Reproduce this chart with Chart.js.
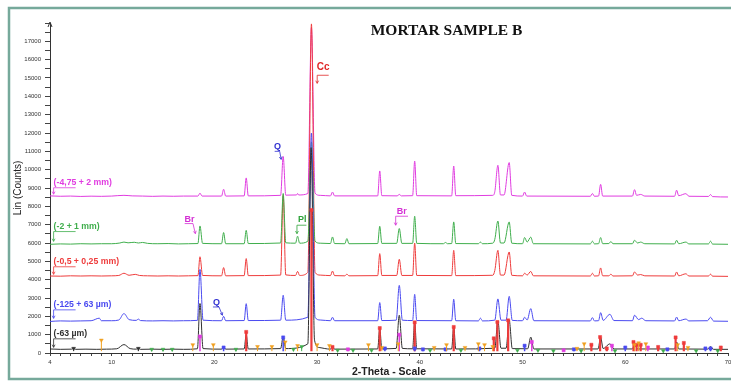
<!DOCTYPE html>
<html>
<head>
<meta charset="utf-8">
<script src="https://cdn.jsdelivr.net/npm/chart.js@4.4.0/dist/chart.umd.min.js"></script>
<style>
  html, body { margin: 0; padding: 0; background: #fff; }
  #wrap { width: 731px; height: 381px; position: relative; }
</style>
</head>
<body>
<div id="wrap"><canvas id="xrd"></canvas></div>
<script>
// XRD patterns, [2-theta, counts] pairs
const sampleNames = ['(-4,75 + 2 mm)', '(-2 + 1 mm)', '(-0,5 + 0,25 mm)', '(-125 + 63 µm)', '(-63 µm)'];

const coarse = [
  [4.0,8570],[5.0,8550],[6.0,8560],[7.0,8540],[8.0,8555],[9.0,8545],[10.0,8560],[11.2,8600],[12.0,8570],[13.0,8560],[14.0,8545],[15.0,8560],[16.0,8550],[17.0,8560],
  [18.4,8560],[18.6,8720],[18.8,8560],
  [20.7,8560],[20.9,8930],[21.1,8560],
  [22.9,8570],[23.1,9550],[23.3,8570],
  [26.45,8600],[26.7,10720],[26.95,8610],
  [28.0,8620],[28.1,8700],[28.2,8620],
  [29.1,8700],[29.45,17750],[29.8,8720],[30.3,8600],
  [31.3,8570],[31.5,8780],[31.7,8570],
  [35.9,8570],[36.1,9930],[36.3,8580],
  [37.8,8570],[38.0,8650],[38.2,8570],
  [39.3,8580],[39.5,10470],[39.7,8580],
  [43.1,8570],[43.3,10200],[43.5,8580],
  [47.1,8600],[47.3,8800],[47.6,10240],[47.85,8620],[48.2,8620],[48.7,10390],[48.95,8600],
  [50.0,8560],[50.2,8780],[50.4,8560],
  [56.6,8550],[56.8,8700],[57.0,8550],
  [57.4,8560],[57.6,9200],[57.8,8560],
  [60.7,8560],[60.9,8910],[61.1,8600],[61.5,8650],[61.9,8560],
  [64.8,8550],[65.0,8880],[65.2,8580],[65.9,8690],[66.2,8550],
  [68.1,8540],[68.3,8640],[68.5,8530],[70.0,8510]
];

const medium = [
  [4.0,5930],[5.0,5950],[6.0,5940],[7.0,5960],[8.0,5950],[9.0,5960],[10.0,5960],[10.8,6000],[11.2,6050],[11.6,6010],[12.2,6040],[12.6,6000],[13.0,6030],[13.5,5980],[14.5,5960],[15.5,5970],[16.5,5950],[17.5,5960],
  [18.4,5970],[18.6,6930],[18.85,5980],
  [20.7,5960],[20.9,6570],[21.1,5960],
  [22.9,5960],[23.1,6690],[23.3,5970],
  [26.45,6000],[26.7,8700],[26.95,6010],
  [27.9,5990],[28.1,6370],[28.3,5990],
  [29.1,6100],[29.45,11500],[29.8,6100],[30.3,5990],
  [31.3,5970],[31.5,6330],[31.7,5970],
  [32.7,5960],[32.9,6240],[33.1,5960],
  [35.9,5970],[36.1,6910],[36.3,5980],
  [37.75,5980],[38.0,6790],[38.25,5980],
  [39.3,5980],[39.5,7460],[39.7,5980],
  [42.3,5960],[42.5,6030],[42.7,5960],
  [43.1,5970],[43.3,7150],[43.5,5970],
  [45.7,5960],[45.9,6050],[46.1,5960],
  [47.1,5990],[47.3,6200],[47.6,7200],[47.85,6000],[48.2,6000],[48.7,7150],[48.95,5990],
  [50.0,5960],[50.2,6300],[50.45,6050],[50.8,6320],[51.05,5960],
  [56.6,5950],[56.8,6100],[57.0,5950],
  [57.4,5960],[57.6,6300],[57.8,5960],[58.4,5970],[58.6,6080],[58.8,5960],
  [60.7,5960],[60.9,6150],[61.2,6000],[61.5,6050],[61.9,5960],
  [64.8,5950],[65.0,6150],[65.2,5960],[65.9,6050],[66.2,5950],
  [68.1,5950],[68.3,6100],[68.5,5940],[70.0,5930]
];

const fine = [
  [4.0,4200],[5.0,4190],[6.0,4210],[7.0,4200],[8.0,4210],[9.0,4200],[10.0,4210],[10.7,4230],[11.2,4350],[11.7,4240],[12.3,4290],[12.7,4230],[13.5,4210],[14.5,4200],[15.5,4210],[16.5,4200],[17.5,4210],
  [18.4,4220],[18.6,5250],[18.85,4230],
  [20.7,4210],[20.9,4660],[21.1,4210],
  [22.9,4220],[23.1,5150],[23.3,4220],
  [26.45,4250],[26.7,8600],[26.95,4260],
  [27.9,4230],[28.1,4450],[28.3,4230],
  [29.1,4400],[29.45,17950],[29.8,4400],[30.3,4250],
  [31.3,4220],[31.5,4470],[31.7,4220],
  [32.7,4210],[32.9,4300],[33.1,4210],
  [35.9,4220],[36.1,5420],[36.3,4230],
  [37.75,4230],[38.0,5110],[38.25,4230],
  [39.3,4230],[39.5,6000],[39.7,4230],
  [43.1,4220],[43.3,5600],[43.5,4220],
  [47.1,4240],[47.3,4500],[47.6,5600],[47.85,4250],[48.2,4250],[48.7,5510],[48.95,4240],
  [50.0,4210],[50.2,4350],[50.45,4250],[50.8,4450],[51.05,4210],
  [56.6,4200],[56.8,4350],[57.0,4200],
  [57.4,4210],[57.6,4640],[57.8,4210],[58.4,4210],[58.6,4300],[58.8,4200],
  [60.7,4210],[60.9,4420],[61.2,4250],[61.5,4280],[61.9,4210],
  [64.8,4200],[65.0,4420],[65.2,4210],[65.9,4320],[66.2,4200],
  [68.1,4200],[68.3,4300],[68.5,4190],[70.0,4180]
];

const silt = [
  [4.0,1720],[5.0,1750],[6.0,1740],[7.0,1750],[8.0,1760],[8.8,1900],[9.0,1760],[10.0,1760],[10.7,1800],[11.2,2150],[11.7,1820],[12.4,1780],[12.6,1850],[12.8,1770],[14.0,1750],[15.0,1760],[16.0,1750],[17.0,1760],
  [18.35,1780],[18.6,4560],[18.9,1790],
  [20.7,1760],[20.9,2000],[21.1,1760],
  [22.9,1770],[23.1,2690],[23.3,1770],
  [26.45,1790],[26.7,3150],[26.95,1790],
  [29.1,1950],[29.45,12000],[29.8,1950],[30.3,1800],
  [31.3,1760],[31.5,1950],[31.7,1760],
  [35.9,1760],[36.1,2750],[36.3,1770],
  [37.7,1790],[38.0,3690],[38.3,1790],
  [39.3,1770],[39.5,3200],[39.7,1770],
  [43.1,1760],[43.3,2930],[43.5,1760],
  [45.7,1750],[45.9,1900],[46.1,1750],
  [47.3,1790],[47.6,2950],[47.9,1790],[48.4,1790],[48.7,3090],[49.0,1780],
  [50.0,1760],[50.2,1950],[50.45,1800],[50.8,2420],[51.1,1760],
  [56.6,1750],[56.8,1930],[57.0,1750],
  [57.4,1760],[57.6,2200],[57.85,1780],[58.5,2110],[58.9,1770],
  [60.7,1760],[60.9,2060],[61.3,1820],[61.6,1900],[62.0,1760],
  [64.8,1750],[65.0,1960],[65.2,1760],[65.9,1850],[66.2,1750],
  [68.0,1760],[68.3,1950],[68.6,1740],[70.0,1730]
];

const finest = [
  [4.0,220],[5.0,200],[6.1,210],[6.3,260],[6.5,200],[7.5,210],[8.5,200],[9.5,210],[10.5,230],[11.2,460],[11.8,240],[12.4,210],[12.6,270],[12.8,200],[14.0,210],[15.0,200],[16.0,210],[17.0,200],
  [18.35,230],[18.6,2700],[18.9,240],
  [20.7,210],[20.9,350],[21.1,210],
  [22.9,220],[23.1,1000],[23.3,220],
  [26.45,240],[26.7,900],[26.95,240],
  [29.1,500],[29.42,11200],[29.75,700],[30.2,300],
  [31.3,210],[31.5,350],[31.7,210],
  [35.9,220],[36.1,1350],[36.3,230],
  [37.7,250],[38.0,2060],[38.3,250],
  [39.3,230],[39.5,1700],[39.7,230],
  [43.1,220],[43.3,1450],[43.5,220],
  [47.3,260],[47.6,1750],[47.9,260],[48.4,260],[48.7,1800],[49.0,240],
  [50.5,230],[50.8,870],[51.1,220],
  [57.35,220],[57.6,850],[57.85,240],[58.5,500],[58.9,220],
  [60.7,220],[60.9,450],[61.2,220],
  [64.8,220],[65.0,600],[65.2,220],
  [68.0,210],[68.3,350],[68.6,200],[70.0,200]
];

// reference pattern sticks [2-theta, top counts]
const ccSticks = [[23.1,1150],[29.45,7800],[31.5,330],[36.1,1360],[39.5,1670],[43.3,1420],[47.2,800],[47.55,1690],[48.6,1780],[56.7,450],[57.55,870],[58.2,250],[60.8,600],[61.1,450],[61.5,450],[63.2,330],[64.9,850],[65.7,550],[69.3,300]];
const qSticks = [[20.9,300],[26.7,850],[36.6,250],[39.5,250],[40.3,200],[42.5,200],[45.8,250],[50.2,400],[55.0,200],[60.0,300],[64.1,200],[67.8,250],[68.3,250]];
const brSticks = [[18.6,900],[33.0,200],[38.0,1000],[50.9,600],[54.0,150],[58.7,400],[62.2,300]];
const orangeSticks = [[9.0,700],[17.9,450],[19.9,450],[24.2,350],[25.6,350],[26.9,600],[28.1,400],[30.0,450],[31.2,400],[35.0,450],[36.3,300],[37.9,500],[41.4,300],[42.6,450],[44.4,300],[45.7,500],[46.3,450],[47.1,350],[55.3,250],[56.0,500],[60.9,450],[61.3,550],[62.0,500],[65.1,450],[66.1,300]];
const plSticks = [[13.9,200],[15.0,200],[15.9,200],[22.1,200],[27.7,200],[28.5,350],[32.0,150],[33.5,150],[35.3,150],[41.0,150],[44.0,150],[49.5,150],[51.5,150],[53.0,120],[55.7,120],[59.0,120],[63.7,120],[66.9,120],[69.0,120]];
const blackSticks = [[6.3,250],[12.6,250]];

const stickBase = 100;

const MAG = '#e03ce0', GRN = '#3fae4c', RED = '#ee3b3b', BLU = '#4a4af0', BLK = '#303030', ORG = '#f0a020';

function toXY(list) {
  return list.map(p => ({x: p[0], y: p[1]}));
}

function stickLine(list) {
  const pts = [];
  list.forEach(s => { pts.push({x: s[0], y: stickBase}, {x: s[0], y: s[1]}, {x: s[0], y: null}); });
  return pts;
}

function traceSet(list, color) {
  return {
    data: toXY(list), borderColor: color, borderWidth: 1,
    pointRadius: 0, cubicInterpolationMode: 'monotone', fill: false
  };
}

function stickSet(list, color, style, rot, width) {
  return {
    data: stickLine(list), borderColor: color, borderWidth: width, spanGaps: false,
    pointRadius: ctx => (ctx.dataIndex % 3 === 1 ? 2.2 : 0),
    pointStyle: style, pointRotation: rot,
    pointBackgroundColor: color, pointBorderColor: color, pointBorderWidth: 0.5
  };
}

// text callouts, anchored in data coordinates
const sampleTags = [
  {text: sampleNames[0], color: MAG, x: 4.35, y: 9150, tip: 8660},
  {text: sampleNames[1], color: GRN, x: 4.35, y: 6760, tip: 6090},
  {text: sampleNames[2], color: RED, x: 4.35, y: 4840, tip: 4290},
  {text: sampleNames[3], color: BLU, x: 4.35, y: 2490, tip: 1890},
  {text: sampleNames[4], color: BLK, x: 4.35, y: 910, tip: 310}
];

const peakTags = [
  {text: 'Q', color: '#3030d0', x: 25.8, y: 11150, path: [[25.87, 11000], [26.36, 11000], [26.5, 10560]]},
  {text: 'Cc', color: '#e02828', x: 29.96, y: 15450, path: [[31.13, 15150], [30.01, 15150], [30.01, 14710]]},
  {text: 'Br', color: '#d42fd4', x: 17.1, y: 7160, path: [[17.11, 7060], [17.92, 7060], [18.15, 6510]]},
  {text: 'Pl', color: '#2ea33a', x: 28.14, y: 7160, path: [[28.96, 6970], [28.04, 6970], [28.04, 6510]]},
  {text: 'Br', color: '#d42fd4', x: 37.75, y: 7590, path: [[38.85, 7460], [37.65, 7460], [37.65, 6970]]},
  {text: 'Q', color: '#3030d0', x: 19.86, y: 2600, path: [[19.86, 2510], [20.45, 2510], [20.78, 2060]]}
];

function arrowHead(ctx, x0, y0, x1, y1) {
  const a = Math.atan2(y1 - y0, x1 - x0), s = 3;
  ctx.beginPath();
  ctx.moveTo(x1 - s * Math.cos(a - 0.5), y1 - s * Math.sin(a - 0.5));
  ctx.lineTo(x1, y1);
  ctx.lineTo(x1 - s * Math.cos(a + 0.5), y1 - s * Math.sin(a + 0.5));
  ctx.stroke();
}

const decorations = {
  id: 'decorations',
  beforeDraw(chart) {
    const ctx = chart.ctx;
    ctx.save();
    ctx.strokeStyle = '#76a99b';
    ctx.lineWidth = 2.5;
    ctx.strokeRect(9, 8, 760, 371);
    ctx.restore();
  },
  afterDatasetsDraw(chart) {
    const ctx = chart.ctx, xs = chart.scales.x, ys = chart.scales.y;
    ctx.save();
    // y axis arrow
    const ax = chart.chartArea.left, at = chart.chartArea.top;
    ctx.strokeStyle = '#333';
    ctx.lineWidth = 1;
    ctx.beginPath();
    ctx.moveTo(ax - 2, at + 4); ctx.lineTo(ax, at - 1); ctx.lineTo(ax + 2, at + 4);
    ctx.stroke();

    // title
    ctx.fillStyle = '#111';
    ctx.font = 'bold 15.5px "Liberation Serif", "Times New Roman", serif';
    ctx.textAlign = 'center';
    ctx.textBaseline = 'alphabetic';
    ctx.fillText('MORTAR SAMPLE B', xs.getPixelForValue(42.6), ys.getPixelForValue(17330));

    // sample labels with arrows
    ctx.textAlign = 'left';
    ctx.font = 'bold 8.7px "Liberation Sans", Arial, sans-serif';
    sampleTags.forEach(t => {
      const px = xs.getPixelForValue(t.x), py = ys.getPixelForValue(t.y), tip = ys.getPixelForValue(t.tip);
      ctx.fillStyle = t.color;
      ctx.strokeStyle = t.color;
      ctx.lineWidth = 0.8;
      ctx.fillText(t.text, px, py);
      ctx.beginPath();
      ctx.moveTo(px + 22, py + 2.5); ctx.lineTo(px, py + 2.5); ctx.lineTo(px, tip);
      ctx.stroke();
      arrowHead(ctx, px, py + 2.5, px, tip);
    });

    // phase labels
    peakTags.forEach(t => {
      ctx.fillStyle = t.color;
      ctx.strokeStyle = t.color;
      ctx.lineWidth = 0.8;
      ctx.font = (t.text === 'Cc' ? 'bold 10px' : 'bold 9px') + ' "Liberation Sans", Arial, sans-serif';
      ctx.fillText(t.text, xs.getPixelForValue(t.x), ys.getPixelForValue(t.y));
      const pts = t.path.map(p => [xs.getPixelForValue(p[0]), ys.getPixelForValue(p[1])]);
      ctx.beginPath();
      pts.forEach((p, i) => (i ? ctx.lineTo(p[0], p[1]) : ctx.moveTo(p[0], p[1])));
      ctx.stroke();
      const n = pts.length;
      arrowHead(ctx, pts[n - 2][0], pts[n - 2][1], pts[n - 1][0], pts[n - 1][1]);
    });
    ctx.restore();
  }
};

const tickFont = {family: '"Liberation Sans", Arial, sans-serif', size: 6};

const config = {
  type: 'line',
  data: {
    datasets: [
      stickSet(orangeSticks, ORG, 'triangle', 180, 1),
      stickSet(plSticks, GRN, 'triangle', 180, 1),
      stickSet(brSticks, MAG, 'rect', 0, 1.5),
      stickSet(qSticks, BLU, 'rect', 0, 1.5),
      stickSet(blackSticks, BLK, 'triangle', 180, 1),
      stickSet(ccSticks, RED, 'rect', 0, 2.2),
      traceSet(finest, BLK),
      traceSet(silt, BLU),
      traceSet(medium, GRN),
      traceSet(fine, RED),
      traceSet(coarse, MAG)
    ]
  },
  options: {
    responsive: true,
    maintainAspectRatio: false,
    animation: false,
    events: [],
    layout: {padding: {left: 0, top: 23, right: 3, bottom: 0}},
    plugins: {legend: {display: false}, tooltip: {enabled: false}},
    scales: {
      x: {
        type: 'linear', min: 4, max: 70,
        grid: {drawOnChartArea: false, tickLength: 3, color: '#444'},
        border: {color: '#333', width: 1},
        ticks: {
          stepSize: 1, autoSkip: false, maxRotation: 0, padding: 3,
          font: tickFont, color: '#333',
          callback: v => (v === 4 || v % 10 === 0 ? v : '')
        },
        title: {display: true, text: '2-Theta - Scale', color: '#222',
          font: {family: '"Liberation Sans", Arial, sans-serif', size: 10.5, weight: 'bold'}, padding: {top: 2, bottom: 3}},
        afterFit: s => { s.height = 28; s.paddingLeft = 0; s.paddingRight = 0; }
      },
      y: {
        min: 0, max: 18000,
        grid: {drawOnChartArea: false, tickLength: 5, color: '#444'},
        border: {color: '#333', width: 1},
        ticks: {
          stepSize: 500, autoSkip: false, padding: 4,
          font: tickFont, color: '#333',
          callback: v => (v % 1000 === 0 && v <= 17000 ? v : '')
        },
        title: {display: true, text: 'Lin (Counts)', color: '#222',
          font: {family: '"Liberation Sans", Arial, sans-serif', size: 10}, padding: {top: 12, bottom: 0}},
        afterFit: s => { s.width = 50; s.paddingTop = 0; s.paddingBottom = 0; }
      }
    }
  },
  plugins: [decorations]
};

const xrdChart = new Chart(document.getElementById('xrd'), config);
</script>
</body>
</html>
